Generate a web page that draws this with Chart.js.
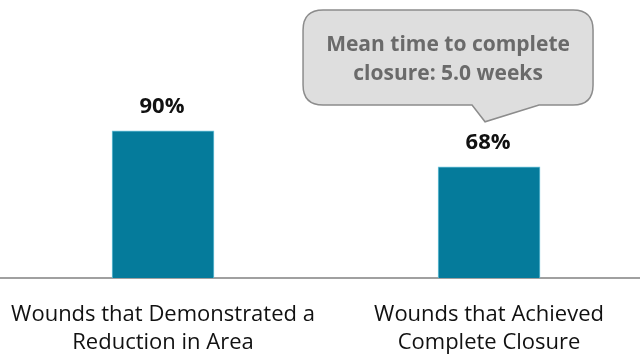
<!DOCTYPE html>
<html>
<head>
<meta charset="utf-8">
<script src="https://cdn.jsdelivr.net/npm/chart.js@4"></script>
<style>
  html, body { margin: 0; padding: 0; background: #fff; }
  #wrap { width: 640px; height: 354px; position: relative; }
</style>
</head>
<body>
<div id="wrap"><canvas id="woundChart"></canvas></div>
<script>
const categories = [
    ['Wounds that Demonstrated a', 'Reduction in Area'],
    ['Wounds that Achieved', 'Complete Closure']
];
const percentages = [90, 68];
const calloutLines = ['Mean time to complete', 'closure: 5.0 weeks'];

const fontFamily = "'Open Sans', 'Noto Sans', sans-serif";

// percent labels above each bar
const valueLabels = {
    id: 'valueLabels',
    afterDatasetsDraw(chart) {
        const ctx = chart.ctx;
        const meta = chart.getDatasetMeta(0);
        ctx.save();
        ctx.font = 'bold 22px ' + fontFamily;
        ctx.fillStyle = '#111';
        ctx.textAlign = 'center';
        ctx.textBaseline = 'middle';
        meta.data.forEach((bar, i) => {
            ctx.fillText(percentages[i] + '%', bar.x - 1, bar.y - 24);
        });
        ctx.restore();
    }
};

// speech bubble pointing at the closure bar
const callout = {
    id: 'callout',
    afterDraw(chart) {
        const ctx = chart.ctx;
        const bar = chart.getDatasetMeta(0).data[1];
        const tipX = bar.x - 4, tipY = bar.y - 45;
        const left = bar.x - 186, right = bar.x + 104;
        const top = 10, bottom = 105, r = 20;
        const p1 = bar.x - 17, p2 = bar.x + 50;

        ctx.save();
        ctx.beginPath();
        ctx.moveTo(left + r, top);
        ctx.lineTo(right - r, top);
        ctx.quadraticCurveTo(right, top, right, top + r);
        ctx.lineTo(right, bottom - r);
        ctx.quadraticCurveTo(right, bottom, right - r, bottom);
        ctx.lineTo(p2, bottom);
        ctx.lineTo(tipX, tipY);
        ctx.lineTo(p1, bottom);
        ctx.lineTo(left + r, bottom);
        ctx.quadraticCurveTo(left, bottom, left, bottom - r);
        ctx.lineTo(left, top + r);
        ctx.quadraticCurveTo(left, top, left + r, top);
        ctx.closePath();
        ctx.fillStyle = '#dedede';
        ctx.fill();
        ctx.lineWidth = 1.5;
        ctx.strokeStyle = '#8c8c8c';
        ctx.stroke();

        ctx.font = 'bold 21px ' + fontFamily;
        ctx.fillStyle = '#6a6a6a';
        ctx.textAlign = 'center';
        ctx.textBaseline = 'middle';
        const cx = (left + right) / 2;
        calloutLines.forEach((line, i) => {
            ctx.fillText(line, cx, 45 + i * 29);
        });
        ctx.restore();
    }
};

const chart = new Chart(document.getElementById('woundChart'), {
    type: 'bar',
    data: {
        datasets: [{
            data: percentages.map((v, i) => ({ x: i, y: v })),
            backgroundColor: '#057b9b',
            borderColor: '#74c6dc',
            borderWidth: 1,
            barThickness: 102
        }]
    },
    options: {
        responsive: true,
        maintainAspectRatio: false,
        animation: false,
        layout: { padding: 0 },
        plugins: {
            legend: { display: false },
            tooltip: { enabled: false }
        },
        scales: {
            x: {
                type: 'linear',
                offset: false,
                min: -0.5,
                max: 1.463,
                grid: { display: false, drawTicks: false },
                border: { color: '#a0a0a0', width: 2 },
                afterBuildTicks: scale => {
                    scale.ticks = categories.map((c, i) => ({ value: i }));
                },
                afterFit: scale => {
                    scale.height = 76;
                    // axis line runs edge to edge, labels may overhang
                    scale.paddingLeft = 0;
                    scale.paddingRight = 0;
                },
                ticks: {
                    autoSkip: false,
                    maxRotation: 0,
                    padding: 23,
                    color: '#111',
                    font: { family: fontFamily, size: 22, lineHeight: 1.27 },
                    callback: v => categories[v]
                }
            },
            y: {
                display: false,
                min: 0,
                max: 170
            }
        }
    },
    plugins: [valueLabels, callout]
});
</script>
</body>
</html>
